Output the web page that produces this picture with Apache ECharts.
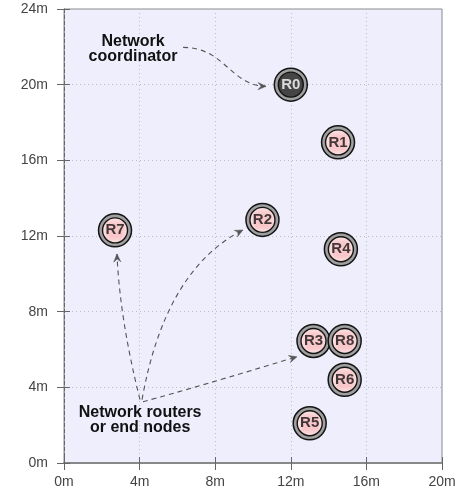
<!DOCTYPE html>
<html><head><meta charset="utf-8">
<script src="https://cdn.jsdelivr.net/npm/echarts@6/dist/echarts.min.js"></script>
<style>html,body{margin:0;padding:0;background:#fff}#c{width:460px;height:497px}</style>
</head><body><div id="c"></div>
<script>
// ---- data ----
const nodeNames = ['R0', 'R1', 'R2', 'R3', 'R4', 'R5', 'R6', 'R7', 'R8'];
const nodeX = [12, 14.5, 10.5, 13.2, 14.65, 13.0, 14.85, 2.7, 14.85];
const nodeY = [20, 16.95, 12.85, 6.45, 11.3, 2.1, 4.4, 12.3, 6.45];
const nodeRole = ['coordinator', 'router', 'router', 'router', 'router', 'router', 'router', 'router', 'router'];
const xTickValues = [0, 4, 8, 12, 16, 20];
const yTickValues = [0, 4, 8, 12, 16, 20, 24];
const annotationLabels = ['Network\ncoordinator', 'Network routers\nor end nodes'];
const annotationLabelX = [3.65, 4.03];
const annotationLabelY = [21.9, 2.25];
// curved arrows in axis units: [start, control1, (control2), end]
const arrowCoordinator = [[6.30, 21.97], [8.52, 21.97], [8.78, 19.96], [10.69, 19.91]];
const arrowToR7 = [[4.02, 3.35], [2.96, 7.57], [2.80, 11.05]];
const arrowToR2 = [[4.13, 3.35], [5.34, 10.21], [9.47, 12.32]];
const arrowToR3 = [[4.18, 3.24], [6.93, 3.98], [12.33, 5.62]];
const arrows = [arrowCoordinator, arrowToR7, arrowToR2, arrowToR3];

// ---- chart ----
const chart = echarts.init(document.getElementById('c'), null, {renderer: 'canvas'});
const FONT = '"Liberation Sans", Arial, Helvetica, sans-serif';
const allNodes = nodeNames.map((n, i) => [nodeX[i], nodeY[i], n, nodeRole[i]]);

// pink cross-hatch fill pattern
function makeHatch() {
  const s = 8, cv = document.createElement('canvas');
  cv.width = s; cv.height = s;
  const c = cv.getContext('2d');
  c.fillStyle = '#ffffff'; c.fillRect(0, 0, s, s);
  c.strokeStyle = 'rgba(245,165,170,0.7)'; c.lineWidth = 0.9;
  c.beginPath();
  c.moveTo(-1, -1); c.lineTo(s + 1, s + 1);
  c.moveTo(-1, s + 1); c.lineTo(s + 1, -1);
  c.stroke();
  return cv;
}
const hatchFill = {image: makeHatch(), repeat: 'repeat'};

const xMin = xTickValues[0], xMax = xTickValues[xTickValues.length - 1];
const yMin = yTickValues[0], yMax = yTickValues[yTickValues.length - 1];
const xInt = xTickValues[1] - xTickValues[0], yInt = yTickValues[1] - yTickValues[0];

const option = {
  animation: false,
  grid: {left: 64, right: 18, top: 9, bottom: 34, show: true, backgroundColor: '#eeeefd', borderColor: '#8a8a8a', borderWidth: 1},
  xAxis: [{
    type: 'value', min: xMin, max: xMax, interval: xInt, position: 'bottom',
    axisLine: {show: true, lineStyle: {color: '#888', width: 2}},
    axisTick: {show: true, length: 7, lineStyle: {color: '#666', width: 1}},
    axisLabel: {formatter: v => v + 'm', color: '#444', fontSize: 14, fontFamily: FONT, margin: 12},
    splitLine: {show: true, lineStyle: {color: '#bdbdc8', type: [1, 3], width: 1}}
  }, {
    type: 'value', min: xMin, max: xMax, interval: xInt, position: 'bottom',
    axisLine: {show: false},
    axisTick: {show: true, inside: true, length: 6, lineStyle: {color: '#666', width: 1}},
    axisLabel: {show: false}, splitLine: {show: false}
  }],
  yAxis: [{
    type: 'value', min: yMin, max: yMax, interval: yInt, position: 'left',
    axisLine: {show: true, lineStyle: {color: '#666', width: 1, type: [4, 2]}},
    axisTick: {show: true, length: 7, lineStyle: {color: '#666', width: 1}},
    axisLabel: {formatter: v => v + 'm', color: '#444', fontSize: 14, fontFamily: FONT, margin: 16},
    splitLine: {show: true, lineStyle: {color: '#bdbdc8', type: [1, 3], width: 1}}
  }, {
    type: 'value', min: yMin, max: yMax, interval: yInt, position: 'left',
    axisLine: {show: false},
    axisTick: {show: true, inside: true, length: 6, lineStyle: {color: '#666', width: 1}},
    axisLabel: {show: false}, splitLine: {show: false}
  }],
  series: [
    {type: 'scatter', data: allNodes, symbolSize: 33, silent: true, z: 5,
     itemStyle: {color: '#a0a0a0', borderColor: '#141414', borderWidth: 1.5, opacity: 1},
     emphasis: {disabled: true}},
    {type: 'scatter', silent: true, z: 6, symbolSize: 25,
     data: allNodes.map(d => ({value: d, itemStyle: {color: d[3] === 'coordinator' ? '#454545' : hatchFill}})),
     itemStyle: {borderColor: '#141414', borderWidth: 1.4, opacity: 1},
     emphasis: {disabled: true}},
    {type: 'scatter', silent: true, z: 8, symbolSize: 1,
     data: allNodes.map(d => ({value: d, label: {color: d[3] === 'coordinator' ? '#ffffff' : '#111111'}})),
     itemStyle: {color: 'rgba(0,0,0,0)'},
     label: {show: true, position: 'inside', formatter: p => p.value[2], fontSize: 15, fontWeight: 'bold', fontFamily: FONT},
     emphasis: {disabled: true}}
  ]
};
chart.setOption(option);

// ---- annotations through the chart's scales ----
function px(p) { return chart.convertToPixel({gridIndex: 0}, p); }
const graphics = [];
annotationLabels.forEach((t, i) => {
  const p = px([annotationLabelX[i], annotationLabelY[i]]);
  graphics.push({type: 'text', x: p[0], y: p[1], z: 50,
    style: {text: t, font: 'bold 16px ' + FONT, fill: '#111', align: 'center', verticalAlign: 'middle', lineHeight: 15}});
});
arrows.forEach(a => {
  const pts = a.map(px);
  const s = pts[0], e = pts[pts.length - 1], prev = pts[pts.length - 2];
  const shape = {x1: s[0], y1: s[1], x2: e[0], y2: e[1], cpx1: pts[1][0], cpy1: pts[1][1]};
  if (pts.length === 4) { shape.cpx2 = pts[2][0]; shape.cpy2 = pts[2][1]; }
  graphics.push({type: 'bezierCurve', z: 40, shape: shape,
    style: {stroke: '#555', lineWidth: 1.1, lineDash: [5, 4], fill: null}});
  let dx = e[0] - prev[0], dy = e[1] - prev[1];
  const L = Math.hypot(dx, dy); dx /= L; dy /= L;
  const len = 8, w = 3.6, notch = 5;
  const bx = e[0] - dx * len, by = e[1] - dy * len;
  graphics.push({type: 'polygon', z: 41, shape: {points: [
    [e[0], e[1]],
    [bx - dy * w, by + dx * w],
    [e[0] - dx * notch, e[1] - dy * notch],
    [bx + dy * w, by - dx * w]
  ]}, style: {fill: '#555', stroke: '#555', lineWidth: 0.5}});
});
chart.setOption({graphic: graphics});
</script>
</body></html>
